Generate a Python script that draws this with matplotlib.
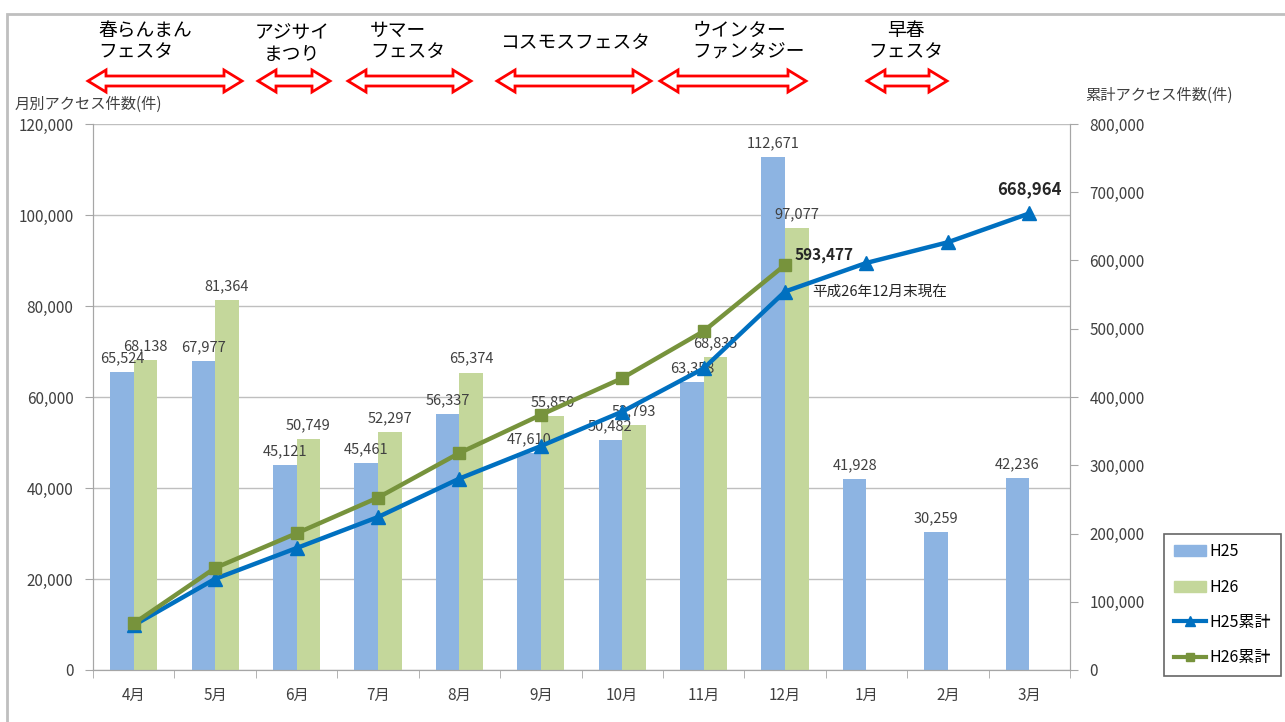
import matplotlib
matplotlib.use("Agg")
import matplotlib.pyplot as plt
from matplotlib.patches import Polygon, Rectangle, Patch
from matplotlib.lines import Line2D
import numpy as np

plt.rcParams['font.family'] = ['Noto Sans CJK JP', 'DejaVu Sans']

months = ['4月', '5月', '6月', '7月', '8月', '9月', '10月', '11月', '12月', '1月', '2月', '3月']
h25 = [65524, 67977, 45121, 45461, 56337, 47610, 50482, 63358, 112671, 41928, 30259, 42236]
h26 = [68138, 81364, 50749, 52297, 65374, 55850, 53793, 68835, 97077]
h25_cum = [65524, 133501, 178622, 224083, 280420, 328030, 378512, 441870, 554541, 596469, 626728, 668964]
h26_cum = [68138, 149502, 200251, 252548, 317922, 373772, 427565, 496400, 593477]

festivals = ['春らんまん\nフェスタ', 'アジサイ\nまつり', 'サマー\nフェスタ', 'コスモスフェスタ',
             'ウインター\nファンタジー', '早春\nフェスタ']

W, H = 1285, 722
fig = plt.figure(figsize=(W / 100, H / 100), dpi=100)
ax = fig.add_axes([93 / W, 1 - 670 / H, (1070 - 93) / W, (670 - 124) / H])
ax2 = ax.twinx()

c_b25 = '#8DB4E2'
c_b26 = '#C4D79B'
c_l25 = '#0070C0'
c_l26 = '#77933C'
tc = '#404040'

x = np.arange(len(months))
bw = 0.29
ax.bar(x - bw / 2, h25, bw, color=c_b25, zorder=2)
x26 = np.arange(len(h26))
ax.bar(x26 + bw / 2, h26, bw, color=c_b26, zorder=2)

for xi, v in zip(x, h25):
    ax.text(xi - bw / 2, v + 1500, f'{v:,}', ha='center', va='bottom', fontsize=10.5, color=tc, zorder=5)
for xi, v in zip(x26, h26):
    ax.text(xi + bw / 2, v + 1500, f'{v:,}', ha='center', va='bottom', fontsize=10.5, color=tc, zorder=5)

ax.set_xlim(-0.5, 11.5)
ax.set_ylim(0, 120000)
ax.set_yticks(np.arange(0, 120001, 20000))
ax.set_yticklabels([f'{v:,}' for v in range(0, 120001, 20000)], fontsize=11, color=tc)
ax.yaxis.grid(True, color='#BFBFBF', linewidth=1, zorder=0)
ax.set_axisbelow(True)
ax.set_xticks(x)
ax.set_xticklabels(months, fontsize=11, color=tc)
ax.tick_params(axis='x', length=0, pad=12)
ax.set_xticks(np.arange(-0.5, 12, 1), minor=True)
ax.tick_params(axis='x', which='minor', length=6, color='#A6A6A6')
ax.tick_params(axis='y', length=6, color='#A6A6A6', pad=8)

ax2.set_ylim(0, 800000)
ax2.set_yticks(np.arange(0, 800001, 100000))
ax2.set_yticklabels([f'{v:,}' for v in range(0, 800001, 100000)], fontsize=11, color=tc)
ax2.tick_params(axis='y', length=6, color='#A6A6A6', pad=8)

ax2.plot(x, h25_cum, color=c_l25, linewidth=3.2, marker='^', markersize=10, zorder=4)
ax2.plot(x26, h26_cum, color=c_l26, linewidth=3.2, marker='s', markersize=8, zorder=4)

ax2.text(x26[-1] + 0.12, h26_cum[-1] + 15000, f'{h26_cum[-1]:,}', fontsize=11, fontweight='bold',
         color='#262626', ha='left', va='center')
ax2.text(x[-1], h25_cum[-1] + 22000, f'{h25_cum[-1]:,}', fontsize=12, fontweight='bold',
         color='#262626', ha='center', va='bottom')
ax2.text(x26[-1] + 0.34, h26_cum[-1] - 40000, '平成26年12月末現在', fontsize=10.5, color='#262626',
         ha='left', va='center')

for a in (ax, ax2):
    a.spines['top'].set_visible(False)
    for s in ['left', 'right', 'bottom']:
        a.spines[s].set_color('#A6A6A6')

fig.text(15 / W, 1 - 104 / H, '月別アクセス件数(件)', fontsize=11, color=tc, va='center', ha='left')
fig.text(1085 / W, 1 - 95 / H, '累計アクセス件数(件)', fontsize=11, color=tc, va='center', ha='left')

# frame
fig.patches.append(Rectangle((7 / W, -0.1), 1.2, 1 - 14 / H + 0.1, transform=fig.transFigure,
                             fill=False, edgecolor='#BFBFBF', linewidth=2))

def px(xp, yp):
    return (xp / W, 1 - yp / H)

def double_arrow(x0, x1, yc):
    hl, hh, sh = 18, 11, 5
    pts = [(x0, yc), (x0 + hl, yc - hh), (x0 + hl, yc - sh), (x1 - hl, yc - sh), (x1 - hl, yc - hh),
           (x1, yc), (x1 - hl, yc + hh), (x1 - hl, yc + sh), (x0 + hl, yc + sh), (x0 + hl, yc + hh)]
    poly = Polygon([px(a, b) for a, b in pts], closed=True, transform=fig.transFigure,
                   facecolor='white', edgecolor='#FF0000', linewidth=2)
    fig.patches.append(poly)

arrows = [(88, 242), (258, 330), (348, 471), (497, 651), (660, 806), (867, 947)]
for a0, a1 in arrows:
    double_arrow(a0, a1, 81)

fest_pos = [(98, 41, 'left'), (292, 44, 'center'), (370, 41, 'left'), (500, 42, 'left'),
            (692, 41, 'left'), (906, 41, 'center')]
for (fx, fy, ha), label in zip(fest_pos, festivals):
    fig.text(fx / W, 1 - fy / H, label, fontsize=13.5, color='#000000', ha=ha, va='center',
             linespacing=1.05)

handles = [Patch(color=c_b25, label='H25'), Patch(color=c_b26, label='H26'),
           Line2D([], [], color=c_l25, lw=3, marker='^', markersize=7, label='H25累計'),
           Line2D([], [], color=c_l26, lw=3, marker='s', markersize=6, label='H26累計')]
leg = fig.legend(handles=handles, loc='lower left', bbox_to_anchor=(1164 / W, 1 - 676 / H),
                 fontsize=11.5, frameon=True, fancybox=False, edgecolor='#404040',
                 handlelength=2.0, labelspacing=1.15, borderpad=0.6, handletextpad=0.25,
                 borderaxespad=0)
leg.get_frame().set_linewidth(1.2)

fig.savefig('out.png', dpi=100)
